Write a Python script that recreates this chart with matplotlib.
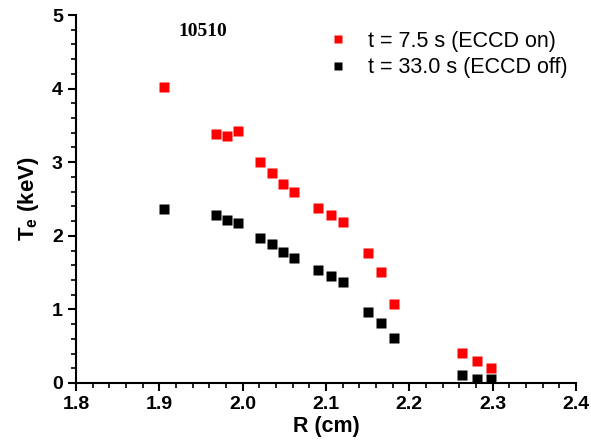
import matplotlib
matplotlib.use("Agg")
import matplotlib.pyplot as plt
from matplotlib.ticker import MultipleLocator

plt.rcParams['font.family'] = 'Liberation Sans'
plt.rcParams['mathtext.fontset'] = 'custom'
plt.rcParams['mathtext.rm'] = 'Liberation Sans:bold'
plt.rcParams['mathtext.default'] = 'rm'

# shot 10510 electron temperature profiles
r_on = [1.906, 1.968, 1.981, 1.994, 2.021, 2.035, 2.048, 2.062, 2.090, 2.106, 2.120,
        2.150, 2.166, 2.182, 2.263, 2.281, 2.298]
te_on = [4.02, 3.38, 3.36, 3.43, 3.00, 2.85, 2.70, 2.59, 2.38, 2.28, 2.19,
         1.76, 1.51, 1.08, 0.41, 0.30, 0.21]

r_off = [1.906, 1.968, 1.981, 1.994, 2.021, 2.035, 2.048, 2.062, 2.090, 2.106, 2.120,
         2.150, 2.166, 2.182, 2.263, 2.281, 2.298]
te_off = [2.37, 2.28, 2.21, 2.18, 1.97, 1.89, 1.78, 1.70, 1.53, 1.45, 1.37,
          0.97, 0.82, 0.61, 0.11, 0.06, 0.05]

fig = plt.figure(figsize=(5.91, 4.44), dpi=100)
ax = fig.add_axes([0.1286, 0.1374, 0.846, 0.8288])

ax.plot(r_on, te_on, 's', color='#ff0000', ms=6.5, mec='none', label='t = 7.5 s (ECCD on)')
ax.plot(r_off, te_off, 's', color='black', ms=6.5, mec='none', label='t = 33.0 s (ECCD off)')

ax.set_xlim(1.8, 2.4)
ax.set_ylim(0, 5)
ax.xaxis.set_major_locator(MultipleLocator(0.1))
ax.xaxis.set_minor_locator(MultipleLocator(0.02))
ax.yaxis.set_major_locator(MultipleLocator(1))
ax.yaxis.set_minor_locator(MultipleLocator(0.2))

for s in ['top', 'right']:
    ax.spines[s].set_visible(False)
for s in ['left', 'bottom']:
    ax.spines[s].set_linewidth(1.5)

ax.tick_params(which='major', length=6, width=1.5, labelsize=14)
ax.tick_params(which='minor', length=3.5, width=1.2)
for lab in ax.get_xticklabels() + ax.get_yticklabels():
    lab.set_fontweight('bold')

ax.set_xlabel('R (cm)', fontsize=15.5, fontweight='bold', labelpad=2)
ax.set_ylabel(r'T$_e$ (keV)', fontsize=16, fontweight='bold', labelpad=8)

ax.text(1.952, 4.77, '10510', family='Liberation Serif', fontweight='bold', fontsize=14,
        ha='center', va='center')

ax.legend(loc='upper right', bbox_to_anchor=(1.022, 1.01), frameon=False, fontsize=15.5,
          handlelength=0.8, handletextpad=1.0, labelspacing=0.25, markerscale=0.9,
          borderaxespad=0.5)

fig.savefig('out.png', dpi=100)
